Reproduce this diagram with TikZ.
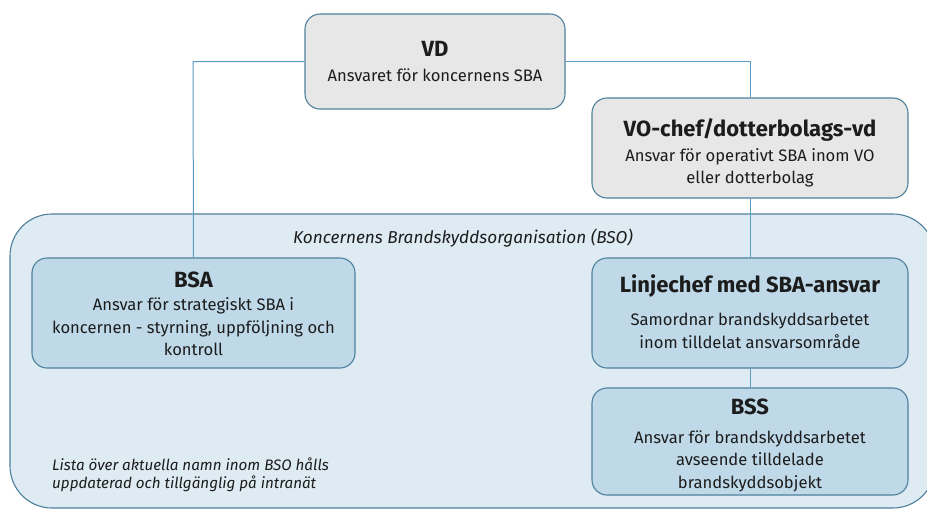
\documentclass[tikz,border=0pt]{standalone}
\usepackage{fontspec}
\setmainfont{Fira Sans}
\definecolor{bordc}{HTML}{4E809C}
\definecolor{linec}{HTML}{5A9CC3}
\definecolor{grayfill}{HTML}{E7E7E7}
\definecolor{bsofill}{HTML}{DEEBF3}
\definecolor{bluefill}{HTML}{BFD9E8}
\definecolor{txt}{HTML}{1C1C1C}
\begin{document}
\begin{tikzpicture}[x=1pt,y=-1pt,
  box/.style={draw=bordc, line width=1.1pt, rounded corners=15pt, inner sep=0pt},
  graybox/.style={box, fill=grayfill},
  bluebox/.style={box, fill=bluefill},
  ttl/.style={font=\fontsize{22}{26}\selectfont\bfseries, text=txt, inner sep=0pt},
  bdy/.style={font=\fontsize{16.6}{22.5}\selectfont, text=txt, align=center, inner sep=0pt},
  conn/.style={draw=linec, line width=1pt}]
\useasboundingbox (0,0) rectangle (927,509);
\fill[white] (0,0) rectangle (927,509);
% BSO container
\node[draw=bordc, line width=1.1pt, fill=bsofill, rounded corners=42pt, minimum width=925pt, minimum height=294pt, inner sep=0pt] (bso) at (472.5,361) {};
\node[font=\fontsize{17.2}{20}\selectfont\itshape, text=txt, inner sep=0pt] (bsot) at (463,238) {Koncernens Brandskyddsorganisation (BSO)};
% boxes
\node[graybox, minimum width=260pt, minimum height=95pt] (vd) at (435,61.5) {};
\node[graybox, minimum width=316pt, minimum height=100pt] (vo) at (750,148) {};
\node[bluebox, minimum width=323pt, minimum height=110pt] (bsa) at (193.5,313) {};
\node[bluebox, minimum width=316pt, minimum height=110pt] (lc) at (750,313) {};
\node[bluebox, minimum width=316pt, minimum height=107pt] (bss) at (750,441.5) {};
% connectors
\coordinate (c1) at (193,61.5);
\coordinate (c2) at (750,61.5);
\draw[conn] (vd.west) -- (c1) -- (bsa.north);
\draw[conn] (vd.east) -- (c2) -- (vo.north);
\draw[conn] (vo.south) -- (lc.north);
\draw[conn] (lc.south) -- (bss.north);
% texts
\node[ttl] (vdt) at (435,49) {VD};
\node[bdy] (vdb) at (435,75) {Ansvaret för koncernens SBA};
\node[ttl] (vot) at (750,130) {VO-chef/dotterbolags-vd};
\node[bdy] (vob) at (750,168) {Ansvar för operativt SBA inom VO\\eller dotterbolag};
\node[ttl] (bsat) at (193.5,280) {BSA};
\node[bdy] (bsab) at (193.5,327) {Ansvar för strategiskt SBA i\\koncernen - styrning, uppföljning och\\kontroll};
\node[ttl] (lct) at (750,286) {Linjechef med SBA-ansvar};
\node[bdy] (lcb) at (750,331) {Samordnar brandskyddsarbetet\\inom tilldelat ansvarsområde};
\node[ttl] (bsst) at (750,407) {BSS};
\node[bdy] (bssb) at (750,461) {Ansvar för brandskyddsarbetet\\avseende tilldelade\\brandskyddsobjekt};
\node[font=\fontsize{15.2}{18}\selectfont\itshape, text=txt, align=left, inner sep=0pt, anchor=west] (note) at (52,475) {Lista över aktuella namn inom BSO hålls\\uppdaterad och tillgänglig på intranät};
\end{tikzpicture}
\end{document}
